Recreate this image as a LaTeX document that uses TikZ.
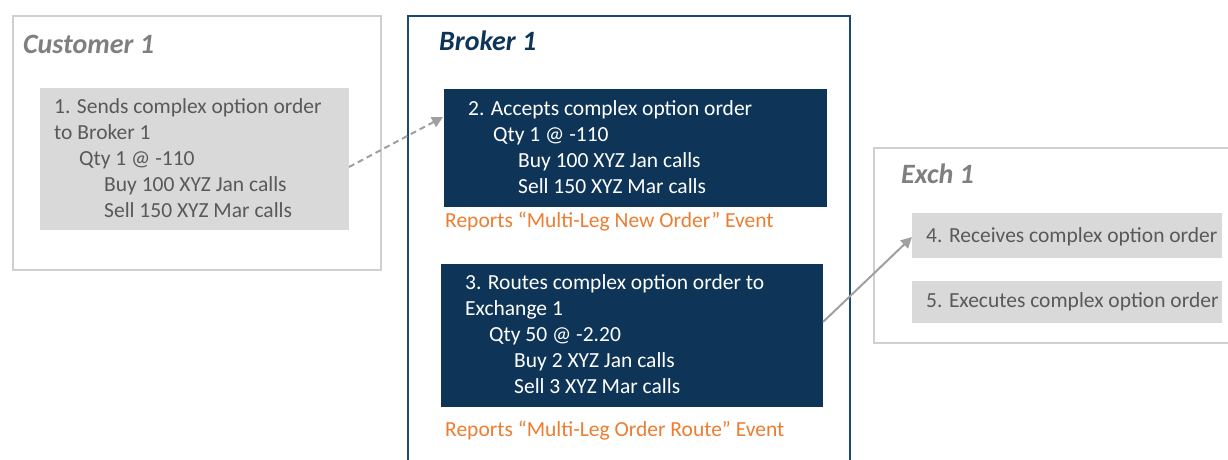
\documentclass[tikz,border=0pt]{standalone}
\usepackage{fontspec}
\setmainfont{Carlito}
\usetikzlibrary{arrows.meta}
\definecolor{framegray}{HTML}{D0D0D0}
\definecolor{boxgray}{HTML}{D9D9D9}
\definecolor{txtgray}{HTML}{595959}
\definecolor{titlegray}{HTML}{7F7F7F}
\definecolor{navy}{HTML}{0E3558}
\definecolor{navyframe}{HTML}{1A4A74}
\definecolor{orangetxt}{HTML}{ED7D31}
\definecolor{arrowgray}{HTML}{A0A0A0}
\tikzset{
  frame/.style={draw=framegray, line width=2pt, fill=white, anchor=north west, inner sep=0pt},
  brokerframe/.style={draw=navyframe, line width=2pt, fill=white, anchor=north west, inner sep=0pt},
  graybox/.style={fill=boxgray, anchor=north west, inner sep=0pt},
  navybox/.style={fill=navy, anchor=north west, inner sep=0pt},
  title/.style={anchor=base west, inner sep=0pt, font=\fontsize{28}{32}\selectfont\bfseries\itshape},
  gtxt/.style={anchor=base west, inner sep=0pt, text=txtgray, font=\fontsize{21.5}{25}\selectfont},
  wtxt/.style={anchor=base west, inner sep=0pt, text=white, font=\fontsize{21.5}{25}\selectfont},
  otxt/.style={anchor=base west, inner sep=0pt, text=orangetxt, font=\fontsize{21.5}{25}\selectfont},
  conn/.style={draw=arrowgray, line width=2pt, -{Triangle[length=11pt,width=11pt]}},
}
\begin{document}
\begin{tikzpicture}[x=1pt,y=-1pt]
\useasboundingbox (0,0) rectangle (1228,459);
% Customer
\node[frame, minimum width=368pt, minimum height=254pt] (cust) at (12,15) {};
\node[title, text=titlegray] (custt) at (23,53) {Customer 1};
\node[graybox, minimum width=309pt, minimum height=142pt] (s1) at (40,88) {};
\node[gtxt] (s1a) at (54,113) {1. Sends complex option order};
\node[gtxt] (s1b) at (54,139) {to Broker 1};
\node[gtxt] (s1c) at (79,165) {Qty 1 @ -110};
\node[gtxt] (s1d) at (104,191) {Buy 100 XYZ Jan calls};
\node[gtxt] (s1e) at (104,217) {Sell 150 XYZ Mar calls};
% Broker
\node[brokerframe, minimum width=442pt, minimum height=460pt] (brk) at (407,15) {};
\node[title, text=navy] (brkt) at (439,50) {Broker 1};
\node[navybox, minimum width=383pt, minimum height=118pt] (s2) at (444,89) {};
\node[wtxt] (s2a) at (468,115) {2. Accepts complex option order};
\node[wtxt] (s2b) at (493,141) {Qty 1 @ -110};
\node[wtxt] (s2c) at (518,167) {Buy 100 XYZ Jan calls};
\node[wtxt] (s2d) at (518,193) {Sell 150 XYZ Mar calls};
\node[otxt] (r2) at (445,227) {Reports “Multi-Leg New Order” Event};
\node[navybox, minimum width=382pt, minimum height=143pt] (s3) at (441,264) {};
\node[wtxt] (s3a) at (465,289) {3. Routes complex option order to};
\node[wtxt] (s3b) at (465,315) {Exchange 1};
\node[wtxt] (s3c) at (489,341) {Qty 50 @ -2.20};
\node[wtxt] (s3d) at (514,367) {Buy 2 XYZ Jan calls};
\node[wtxt] (s3e) at (514,393) {Sell 3 XYZ Mar calls};
\node[otxt] (r3) at (445,436) {Reports “Multi-Leg Order Route” Event};
% Exchange
\node[frame, minimum width=362pt, minimum height=195pt] (exch) at (873,147) {};
\node[title, text=titlegray] (excht) at (901,183) {Exch 1};
\node[graybox, minimum width=310pt, minimum height=45pt] (s4) at (912,213) {};
\node[gtxt] (s4a) at (926,242) {4. Receives complex option order};
\node[graybox, minimum width=310pt, minimum height=42pt] (s5) at (912,281) {};
\node[gtxt] (s5a) at (926,307) {5. Executes complex option order};
% connectors
\coordinate (c1) at (349,167);
\coordinate (c2) at (443,117);
\coordinate (c3) at (823,322);
\coordinate (c4) at (912,237);
\draw[conn, dashed, dash pattern=on 6pt off 4pt] (c1) -- (c2);
\draw[conn] (c3) -- (c4);
\end{tikzpicture}
\end{document}
